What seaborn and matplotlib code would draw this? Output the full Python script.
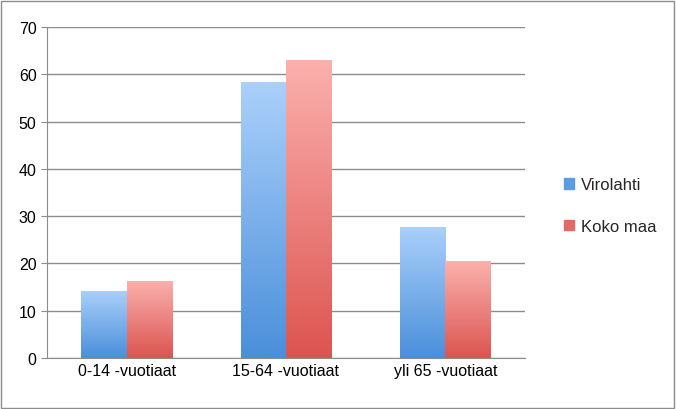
import numpy as np
import pandas as pd
import matplotlib
matplotlib.use('Agg')
import matplotlib.pyplot as plt
import seaborn as sns
from matplotlib.colors import LinearSegmentedColormap

# Data
groups = ['0-14 -vuotiaat', '15-64 -vuotiaat', 'yli 65 -vuotiaat']
virolahti = [14.2, 58.3, 27.8]
koko_maa = [16.3, 63.1, 20.5]
series = ['Virolahti', 'Koko maa']

df = pd.DataFrame({
    'group': groups * 2,
    'value': virolahti + koko_maa,
    'series': [series[0]] * 3 + [series[1]] * 3,
})

sns.set_style('white')
plt.rcParams['font.family'] = ['Liberation Sans', 'DejaVu Sans']

fig = plt.figure(figsize=(6.76, 4.10), dpi=100)
ax = fig.add_axes([47 / 676, 1 - 359 / 410, 478 / 676, 331 / 410])

palette = {'Virolahti': '#4a90dc', 'Koko maa': '#db4f4a'}
sns.barplot(data=df, x='group', y='value', hue='series', palette=palette,
            ax=ax, width=0.57, gap=0.0, legend=True)

# gradient fill on bars
grads = {
    'Virolahti': LinearSegmentedColormap.from_list('b', ['#4a8fdb', '#abd0fa']),
    'Koko maa': LinearSegmentedColormap.from_list('r', ['#dc5450', '#fbb1ae']),
}
for container, name in zip(ax.containers, series):
    for bar in container:
        x0, y0 = bar.get_x(), bar.get_y()
        w, h = bar.get_width(), bar.get_height()
        bar.set_facecolor('none')
        bar.set_edgecolor('none')
        im = ax.imshow(np.linspace(0, 1, 256).reshape(-1, 1), cmap=grads[name],
                       extent=[x0, x0 + w, y0, y0 + h], origin='lower',
                       aspect='auto', zorder=2)
        im.set_clip_path(bar)

ax.set_xlim(-0.5, 2.5)
ax.set_ylim(0, 70)
ax.set_yticks(range(0, 71, 10))
ax.yaxis.grid(True, color='#8c8c8c', linewidth=1)
ax.set_axisbelow(True)
ax.set_xlabel('')
ax.set_ylabel('')
for s in ['top', 'right']:
    ax.spines[s].set_visible(False)
ax.spines['left'].set_color('#8c8c8c')
ax.spines['bottom'].set_color('#8c8c8c')
ax.tick_params(axis='both', labelsize=11.5, colors='black', length=4, direction='out')
ax.tick_params(axis='x', length=0)
ax.tick_params(axis='y', left=True, color='#8c8c8c')
for t in ax.get_xticklabels() + ax.get_yticklabels():
    t.set_color('black')

handles = [plt.Rectangle((0, 0), 1, 1, color='#5b9de3'),
           plt.Rectangle((0, 0), 1, 1, color='#e46a66')]
ax.legend(handles, series, loc='center left', bbox_to_anchor=(1.05, 0.46),
          frameon=False, fontsize=12, handlelength=0.6, handleheight=0.6,
          labelspacing=1.6, handletextpad=0.4)

# figure border
fig.patches.append(plt.Rectangle((0.002, 0.003), 0.995, 0.993, transform=fig.transFigure,
                                 fill=False, edgecolor='#8c8c8c', linewidth=1))

fig.savefig('out.png', dpi=100)
